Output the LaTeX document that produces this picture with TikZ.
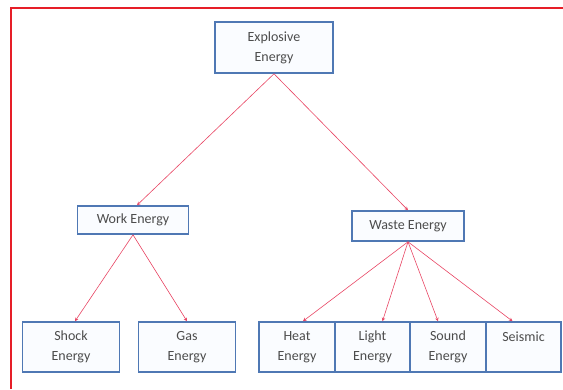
\documentclass[tikz,border=0pt]{standalone}
\usepackage{fontspec}
\setmainfont{Carlito}
\usepackage{tikz}
\usetikzlibrary{positioning, arrows.meta}

\definecolor{boxblue}{RGB}{79,120,180}
\definecolor{boxfill}{RGB}{250,252,255}
\definecolor{linkred}{RGB}{232,70,100}
\definecolor{framered}{RGB}{230,30,40}

\tikzset{
    ebox/.style = {draw=boxblue, fill=boxfill, line width=1.6pt, align=center, inner sep=1pt,
                   font=\fontsize{14}{20}\selectfont, text=black!70},
    link/.style = {draw=linkred, line width=0.6pt, -{Stealth[length=3.5pt,width=3.5pt]}}
}

\begin{document}
\begin{tikzpicture}[x=1pt, y=-1pt]
    \useasboundingbox (0,0) rectangle (563,389);

    % Frame
    \draw[framered, line width=2pt] (11,389) -- (11,8) -- (563,8);

    % Boxes
    \node[ebox, minimum width=118pt, minimum height=51pt] (expl) at (274,47.5) {Explosive\\Energy};
    \node[ebox, minimum width=111pt, minimum height=28pt] (work) at (133,220) {Work Energy};
    \node[ebox, minimum width=112pt, minimum height=30pt] (waste) at (408,226) {Waste Energy};

    \node[ebox, minimum width=97pt, minimum height=50pt] (shock) at (71,347) {Shock\\Energy};
    \node[ebox, minimum width=97pt, minimum height=50pt] (gas) at (187,347) {Gas\\Energy};
    \node[ebox, minimum width=75.5pt, minimum height=50pt] (heat) at (297,347) {Heat\\Energy};
    \node[ebox, minimum width=75.5pt, minimum height=50pt] (light) at (372.5,347) {Light\\Energy};
    \node[ebox, minimum width=75.5pt, minimum height=50pt] (sound) at (448,347) {Sound\\Energy};
    \node[ebox, minimum width=75.5pt, minimum height=50pt] (seismic) at (523.5,347) {Seismic\\~};

    % Links
    \draw[link] (expl.south) -- ([xshift=4pt]work.north);
    \draw[link] (expl.south) -- (waste.north);
    \draw[link] (work.south) -- ([xshift=4pt]shock.north);
    \draw[link] (work.south) -- (gas.north);
    \draw[link] (waste.south) -- ([xshift=6pt]heat.north);
    \draw[link] (waste.south) -- ([xshift=10pt]light.north);
    \draw[link] (waste.south) -- ([xshift=-10pt]sound.north);
    \draw[link] (waste.south) -- ([xshift=-11pt]seismic.north);

\end{tikzpicture}
\end{document}
